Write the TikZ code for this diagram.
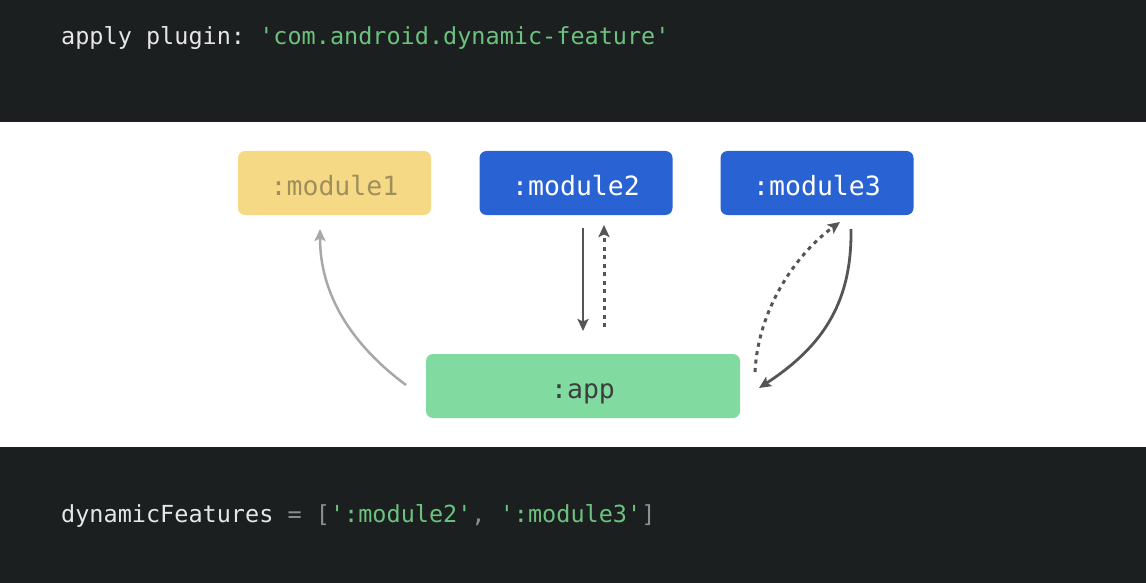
\documentclass[tikz,border=0pt]{standalone}
\usepackage{fontspec}
\setmainfont{DejaVu Sans Mono}
\setmonofont{DejaVu Sans Mono}
\usetikzlibrary{arrows.meta,calc}
\definecolor{bgdark}{HTML}{1C1F1F}
\definecolor{codewhite}{HTML}{E6E6E6}
\definecolor{codegreen}{HTML}{6CC17F}
\definecolor{codegray}{HTML}{8E8E8E}
\definecolor{yellowbox}{HTML}{F6D985}
\definecolor{yellowtext}{HTML}{A08F5E}
\definecolor{bluebox}{HTML}{2962D2}
\definecolor{greenbox}{HTML}{81DBA0}
\definecolor{apptext}{HTML}{3A3F3C}
\definecolor{arrowdark}{HTML}{555555}
\definecolor{arrowlight}{HTML}{A8A8A8}
\tikzset{
  modbox/.style={rounded corners=7pt, minimum width=193pt, minimum height=64pt, inner sep=0pt,
    text height=24pt, text depth=0pt,
    font=\ttfamily\fontsize{26.5}{30}\selectfont},
  codeline/.style={anchor=base west, inner sep=0pt, font=\ttfamily\fontsize{23.5}{28}\selectfont, text=codewhite},
  tipstyle/.style={-{Stealth[length=12pt,width=11pt,inset=2.5pt]}},
  darkarrow/.style={tipstyle, draw=arrowdark, line width=2.8pt},
  lightarrow/.style={tipstyle, draw=arrowlight, line width=2.5pt},
  dottedarrow/.style={tipstyle, draw=arrowdark, line width=3pt, dash pattern=on 4pt off 4.5pt}
}
\begin{document}
\begin{tikzpicture}[x=1pt,y=-1pt]
\useasboundingbox (0,0) rectangle (1146,583);
\fill[white] (0,0) rectangle (1146,583);
\fill[bgdark] (0,0) rectangle (1146,122);
\fill[bgdark] (0,447) rectangle (1146,583);

\node[codeline] (plugin) at (61,45) {apply plugin: \textcolor{codegreen}{'com.android.dynamic-feature'}};
\node[codeline] (features) at (61,522) {dynamicFeatures \textcolor{codegray}{= [}\textcolor{codegreen}{':module2'}\textcolor{codegray}{,} \textcolor{codegreen}{':module3'}\textcolor{codegray}{]}};

\node[modbox, fill=yellowbox, text=yellowtext] (m1) at (334.5,183) {:module1};
\node[modbox, fill=bluebox, text=white] (m2) at (576,183) {:module2};
\node[modbox, fill=bluebox, text=white] (m3) at (817,183) {:module3};
\node[modbox, fill=greenbox, text=apptext, minimum width=314pt] (app) at (583,386) {:app};

\coordinate (g1) at (406,385);
\coordinate (g2) at (320,229);
\draw[lightarrow] (g1) .. controls (352,345) and (320,295) .. (g2);

\coordinate (d1) at (583,228);
\coordinate (d2) at (583,331);
\draw[darkarrow] (d1) -- (d2);
\coordinate (u1) at (604,327);
\coordinate (u2) at (604,225);
\draw[dottedarrow] (u1) -- (u2);

\coordinate (r1) at (851,229);
\coordinate (r2) at (759,388);
\draw[darkarrow] (r1) .. controls (852,300) and (825,345) .. (r2);
\coordinate (s1) at (755,372);
\coordinate (s2) at (840,222);
\draw[dottedarrow] (s1) .. controls (758,310) and (795,255) .. (s2);
\end{tikzpicture}
\end{document}
